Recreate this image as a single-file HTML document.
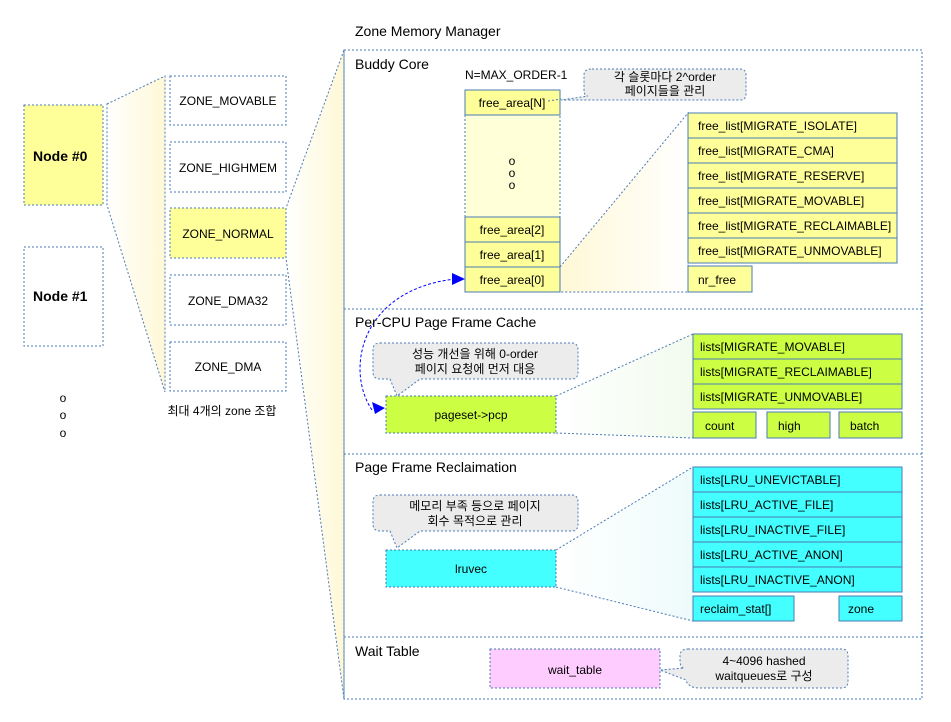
<!DOCTYPE html>
<html><head><meta charset="utf-8"><style>
html,body{margin:0;padding:0;background:#fff}
svg{display:block}
text{font-family:"Liberation Sans","Noto Sans CJK KR",sans-serif;font-size:12px;fill:#000}
.b{font-weight:bold;font-size:14px}
.h{font-size:14px}
</style></head><body>
<svg width="951" height="722" viewBox="0 0 951 722" xmlns="http://www.w3.org/2000/svg">
<defs>
<linearGradient id="gy" x1="0" x2="1" y1="0" y2="0"><stop offset="0" stop-color="#fff"/><stop offset="1" stop-color="#fff8d6"/></linearGradient>
<linearGradient id="gy2" x1="0" x2="1"><stop offset="0" stop-color="#fff8d6"/><stop offset="1" stop-color="#fff"/></linearGradient>
<linearGradient id="gg" x1="0" x2="1"><stop offset="0" stop-color="#fff"/><stop offset="1" stop-color="#f2fbee"/></linearGradient>
<linearGradient id="gc" x1="0" x2="1"><stop offset="0" stop-color="#fff"/><stop offset="1" stop-color="#eefbfb"/></linearGradient>
</defs>
<g stroke="#4a7bb7" stroke-dasharray="2,2" stroke-width="1">
<polygon points="107,104 165,76 165,392 107,205" fill="url(#gy)"/>
<polygon points="286,258 286,208 344,50 344,699" fill="url(#gy)"/>
<polygon points="560,267 688,113 688,292 560,292" fill="url(#gy2)"/>
<polygon points="556,396 693,334 693,438 556,433" fill="url(#gg)" stroke="none"/>
<line x1="556" y1="396" x2="693" y2="334"/><line x1="556" y1="433" x2="693" y2="438"/>
<polygon points="556,550 693,467 693,621 556,587" fill="url(#gc)" stroke="none"/>
<line x1="556" y1="550" x2="693" y2="467"/><line x1="556" y1="587" x2="693" y2="621"/>
<rect x="24" y="105" width="79" height="100" fill="#ffff99"/>
<rect x="24" y="247" width="79" height="99" fill="#fff"/>
<rect x="170" y="76" width="116" height="49" fill="#fff"/>
<rect x="170" y="142" width="116" height="50" fill="#fff"/>
<rect x="170" y="208" width="116" height="50" fill="#ffff99"/>
<rect x="170" y="275" width="116" height="50" fill="#fff"/>
<rect x="170" y="342" width="116" height="49" fill="#fff"/>
<rect x="344" y="50" width="578" height="649" fill="none"/>
<line x1="344" y1="309" x2="922" y2="309"/>
<line x1="344" y1="454" x2="922" y2="454"/>
<line x1="344" y1="637" x2="922" y2="637"/>
<rect x="465" y="115" width="95" height="102" fill="#ffffd8"/>
<path d="M592,69 H740 Q746,69 746,75 V94 Q746,100 740,100 H600 L561,100 L588,96 Q584,96 584,90 V75 Q584,69 592,69 Z" fill="#ececec"/>
<path d="M380,343 H572 Q578,343 578,350 V372 Q578,379 572,379 H420 L397,396 L390,379 H380 Q373,379 373,372 V350 Q373,343 380,343 Z" fill="#ececec"/>
<path d="M380,495 H572 Q578,495 578,502 V524 Q578,531 572,531 H420 L397,548 L390,531 H380 Q373,531 373,524 V502 Q373,495 380,495 Z" fill="#ececec"/>
<path d="M688,649 H842 Q848,649 848,656 V681 Q848,688 842,688 H700 Q688,688 686,680 L660,670 L684,668 Q680,668 680,660 V656 Q680,649 688,649 Z" fill="#ececec"/>
<rect x="386" y="396" width="170" height="37" fill="#ccff44"/>
<rect x="386" y="550" width="170" height="37" fill="#44ffff"/>
<rect x="490" y="649" width="170" height="39" fill="#ffccff"/>
</g>
<g stroke="#4a7bb7" stroke-width="1">
<rect x="465" y="90" width="95" height="25" fill="#ffff99"/>
<rect x="465" y="217" width="95" height="25" fill="#ffff99"/>
<rect x="465" y="242" width="95" height="25" fill="#ffff99"/>
<rect x="465" y="267" width="95" height="25" fill="#ffff99"/>
<g fill="#ffff99">
<rect x="688" y="113" width="209" height="25"/><rect x="688" y="138" width="209" height="25"/><rect x="688" y="163" width="209" height="25"/>
<rect x="688" y="188" width="209" height="25"/><rect x="688" y="213" width="209" height="25"/><rect x="688" y="238" width="209" height="25"/>
<rect x="688" y="266" width="64" height="26"/>
</g>
<g fill="#ccff44">
<rect x="693" y="334" width="209" height="25"/><rect x="693" y="359" width="209" height="25"/><rect x="693" y="384" width="209" height="25"/>
<rect x="693" y="412" width="63" height="26"/><rect x="767" y="412" width="63" height="26"/><rect x="839" y="412" width="63" height="26"/>
</g>
<g fill="#44ffff">
<rect x="693" y="467" width="209" height="25"/><rect x="693" y="492" width="209" height="25"/><rect x="693" y="517" width="209" height="25"/>
<rect x="693" y="542" width="209" height="25"/><rect x="693" y="567" width="209" height="25"/>
<rect x="693" y="596" width="101" height="25"/><rect x="839" y="596" width="63" height="25"/>
</g>
</g>
<path d="M372,410 C345,370 360,290 455,279" fill="none" stroke="#0000ff" stroke-dasharray="3,2"/>
<polygon points="465,279 452,273 452,285" fill="#0000ff"/>
<polygon points="385,408 372,402 375,414" fill="#0000ff"/>
<line x1="548" y1="101" x2="561" y2="99" stroke="#4a7bb7" stroke-dasharray="2,2"/>
<text x="355" y="36" class="h">Zone Memory Manager</text>
<text x="355" y="69" class="h">Buddy Core</text>
<text x="355" y="327" class="h">Per-CPU Page Frame Cache</text>
<text x="355" y="472" class="h">Page Frame Reclaimation</text>
<text x="355" y="656" class="h">Wait Table</text>
<text x="33" y="161" class="b">Node #0</text>
<text x="33" y="301" class="b">Node #1</text>
<g text-anchor="middle">
<text x="63" y="402">o</text><text x="63" y="419">o</text><text x="63" y="437">o</text>
<text x="228" y="105">ZONE_MOVABLE</text>
<text x="228" y="172">ZONE_HIGHMEM</text>
<text x="228" y="238">ZONE_NORMAL</text>
<text x="228" y="305">ZONE_DMA32</text>
<text x="228" y="371">ZONE_DMA</text>
<text x="222" y="415">최대 4개의 zone 조합</text>
<text x="512" y="107">free_area[N]</text>
<text x="512" y="165">o</text><text x="512" y="177">o</text><text x="512" y="189">o</text>
<text x="512" y="234">free_area[2]</text>
<text x="512" y="259">free_area[1]</text>
<text x="512" y="284">free_area[0]</text>
<text x="665" y="81">각 슬롯마다 2^order</text>
<text x="665" y="95">페이지들을 관리</text>
<text x="475" y="358">성능 개선을 위해 0-order</text>
<text x="475" y="373">페이지 요청에 먼저 대응</text>
<text x="475" y="510">메모리 부족 등으로 페이지</text>
<text x="475" y="525">회수 목적으로 관리</text>
<text x="471" y="419">pageset-&gt;pcp</text>
<text x="471" y="573">lruvec</text>
<text x="575" y="674">wait_table</text>
<text x="764" y="665">4~4096 hashed</text>
<text x="764" y="680">waitqueues로 구성</text>
</g>
<text x="465" y="79">N=MAX_ORDER-1</text>
<g>
<text x="698" y="130">free_list[MIGRATE_ISOLATE]</text>
<text x="698" y="155">free_list[MIGRATE_CMA]</text>
<text x="698" y="180">free_list[MIGRATE_RESERVE]</text>
<text x="698" y="205">free_list[MIGRATE_MOVABLE]</text>
<text x="698" y="230">free_list[MIGRATE_RECLAIMABLE]</text>
<text x="698" y="255">free_list[MIGRATE_UNMOVABLE]</text>
<text x="698" y="284">nr_free</text>
<text x="700" y="351">lists[MIGRATE_MOVABLE]</text>
<text x="700" y="376">lists[MIGRATE_RECLAIMABLE]</text>
<text x="700" y="401">lists[MIGRATE_UNMOVABLE]</text>
<text x="705" y="430">count</text><text x="778" y="430">high</text><text x="850" y="430">batch</text>
<text x="700" y="484">lists[LRU_UNEVICTABLE]</text>
<text x="700" y="509">lists[LRU_ACTIVE_FILE]</text>
<text x="700" y="534">lists[LRU_INACTIVE_FILE]</text>
<text x="700" y="559">lists[LRU_ACTIVE_ANON]</text>
<text x="700" y="584">lists[LRU_INACTIVE_ANON]</text>
<text x="700" y="613">reclaim_stat[]</text>
<text x="848" y="613">zone</text>
</g>
</svg>
</body></html>
